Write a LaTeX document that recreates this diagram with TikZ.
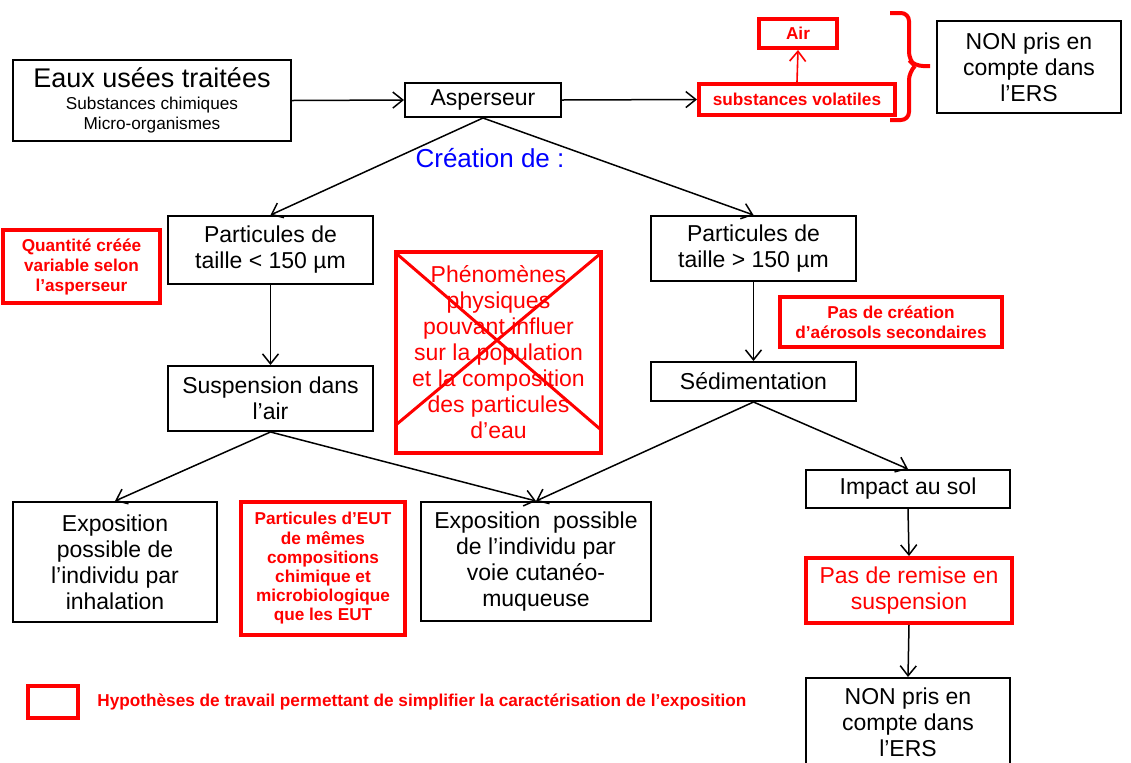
\documentclass[tikz,border=0pt]{standalone}
\usepackage{fontspec}
\setmainfont{Liberation Sans}
\usetikzlibrary{arrows.meta}
\begin{document}
\begin{tikzpicture}[x=0.5pt,y=-0.5pt,
  box/.style={draw=black,line width=1pt,align=center,inner sep=0pt,
    font=\fontsize{11.5}{13}\selectfont},
  hyp/.style={draw=red,line width=2pt,text=red,align=center,inner sep=0pt,
    font=\fontsize{8.6}{10}\selectfont\bfseries},
  hypbig/.style={draw=red,line width=2pt,text=red,align=center,inner sep=0pt,
    font=\fontsize{11.5}{13}\selectfont},
  flow/.style={draw=black,line width=0.75pt,-{Straight Barb[length=5pt,width=8pt]}},
  redflow/.style={draw=red,line width=0.8pt,-{Straight Barb[length=5pt,width=8pt]}},
]
% page frame
\clip (0,0) rectangle (1131,762);
\fill[white] (0,0) rectangle (1131,762);

% top row
\node[box,minimum width=139pt,minimum height=40.5pt,font=\fontsize{8.6}{10}\selectfont] (eaux) at (152,100.5)
  {{\fontsize{13.5}{15}\selectfont Eaux usées traitées}\\[1pt]
   Substances chimiques\\
   Micro-organismes};
\node[box,minimum width=78pt,minimum height=17pt] (asp) at (483,100) {Asperseur};
\node[hyp,minimum width=98pt,minimum height=15.5pt] (subst) at (797,99.5) {substances volatiles};
\node[hyp,minimum width=39pt,minimum height=14.5pt] (air) at (798,33.5) {Air};
\node[box,minimum width=92pt,minimum height=46pt] (nontop) at (1029,67)
  {NON pris en\\compte dans\\l’ERS};

% brace grouping the volatile path
\draw[red,line width=2pt,rounded corners=4pt]
  (890,13) -- (909,13) -- (909,60) -- (915,66) -- (930,66);
\draw[red,line width=2pt,rounded corners=4pt]
  (915,66) -- (909,72) -- (909,120) -- (890,120);

\node[text=blue,font=\fontsize{13}{15}\selectfont] (crea) at (490,158) {Création de :};

% particle sizes
\node[box,minimum width=102.5pt,minimum height=34pt] (plt) at (270.5,250)
  {Particules de\\taille < 150 µm};
\node[box,minimum width=102.5pt,minimum height=32.5pt] (pgt) at (753.5,248.5)
  {Particules de\\taille > 150 µm};
\node[hyp,minimum width=78.5pt,minimum height=36.5pt] (quant) at (81.5,266.5)
  {Quantité créée\\variable selon\\l’asperseur};
\node[hyp,minimum width=111pt,minimum height=25pt] (pasc) at (891,322)
  {Pas de création\\d’aérosols secondaires};

% crossed-out box
\node[hypbig,minimum width=102.5pt,minimum height=100.5pt] (phen) at (498.5,352.5)
  {Phénomènes\\physiques\\pouvant influer\\sur la population\\et la composition\\des particules\\d’eau};
\draw[red,line width=1.5pt] (397,254) -- (600,429);
\draw[red,line width=1.5pt] (600,254) -- (397,424);

% fate of particles
\node[box,minimum width=102.5pt,minimum height=32.5pt] (susp) at (270.5,398.5)
  {Suspension dans\\l’air};
\node[box,minimum width=102.5pt,minimum height=19.5pt] (sedim) at (753.5,381.5)
  {Sédimentation};

% exposure
\node[box,minimum width=102pt,minimum height=60pt] (expinh) at (115,562)
  {Exposition\\possible de\\l’individu par\\inhalation};
\node[hyp,minimum width=82pt,minimum height=66.5pt,font=\fontsize{8.6}{9.6}\selectfont\bfseries] (peut) at (323,568.5)
  {Particules d’EUT\\de mêmes\\compositions\\chimique et\\microbiologique\\que les EUT};
\node[box,minimum width=115pt,minimum height=59.5pt] (expcut) at (536,561.5)
  {Exposition~ possible\\de l’individu par\\voie cutanéo-\\muqueuse};
\node[box,minimum width=102pt,minimum height=19pt] (impact) at (908,489) {Impact au sol};
\node[hypbig,minimum width=103pt,minimum height=32.5pt] (remise) at (909,590.5)
  {Pas de remise en\\suspension};
\node[box,minimum width=102pt,minimum height=44pt] (nonbot) at (908,722)
  {NON pris en\\compte dans\\l’ERS};

% legend
\node[draw=red,line width=2pt,minimum width=25pt,minimum height=16pt,inner sep=0pt] (leg) at (53,702) {};
\node[anchor=west,text=red,inner sep=0pt,font=\fontsize{8.6}{10}\selectfont\bfseries] (legtxt) at (97,702)
  {Hypothèses de travail permettant de simplifier la caractérisation de l’exposition};

% connectors
\draw[flow] (eaux.east) -- (asp.west);
\draw[flow] (asp.east) -- (subst.west);
\draw[redflow] (subst.north) -- (air.south);
\draw[flow] (asp.south) -- (plt.north);
\draw[flow] (asp.south) -- (pgt.north);
\draw[flow] (plt.south) -- (susp.north);
\draw[flow] (pgt.south) -- (sedim.north);
\draw[flow] (susp.south) -- (expinh.north);
\draw[flow] (susp.south) -- (expcut.north);
\draw[flow] (sedim.south) -- (expcut.north);
\draw[flow] (sedim.south) -- (impact.north);
\draw[flow] (impact.south) -- (remise.north);
\draw[flow] (remise.south) -- (nonbot.north);
\end{tikzpicture}
\end{document}
